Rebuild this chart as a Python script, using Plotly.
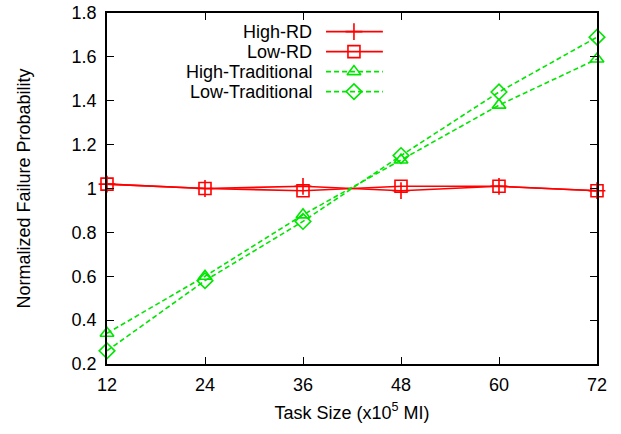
import plotly.graph_objects as go

task_size = [12, 24, 36, 48, 60, 72]
high_rd = [1.02, 1.00, 1.01, 0.99, 1.01, 0.99]
low_rd = [1.02, 1.00, 0.99, 1.01, 1.01, 0.99]
high_trad = [0.34, 0.60, 0.88, 1.13, 1.38, 1.59]
low_trad = [0.26, 0.58, 0.85, 1.15, 1.44, 1.69]

series_names = ["High-RD", "Low-RD", "High-Traditional", "Low-Traditional"]
y_tickvals = [0.2, 0.4, 0.6, 0.8, 1.0, 1.2, 1.4, 1.6, 1.8]
y_ticktext = ["0.2", "0.4", "0.6", "0.8", "1", "1.2", "1.4", "1.6", "1.8"]

RED = "#ff0000"
GREEN = "#00e600"
FONT = "Liberation Sans, Arial, sans-serif"
FS = 18

styles = [
    dict(color=RED, dash="solid", symbol="cross-thin-open"),
    dict(color=RED, dash="solid", symbol="square-open"),
    dict(color=GREEN, dash="5px,3px", symbol="triangle-up-open"),
    dict(color=GREEN, dash="5px,3px", symbol="diamond-open"),
]
values = [high_rd, low_rd, high_trad, low_trad]

fig = go.Figure()
for name, vals, st in zip(series_names, values, styles):
    fig.add_trace(go.Scatter(
        x=task_size, y=vals, name=name, mode="lines+markers",
        line=dict(color=st["color"], width=1.6, dash=st["dash"]),
        marker=dict(symbol=st["symbol"], size=12, color=st["color"],
                    line=dict(width=1.6, color=st["color"])),
        showlegend=False, cliponaxis=False,
    ))

# custom gnuplot-style legend (text right-aligned, sample to the right)
leg_y = [0.947, 0.890, 0.833, 0.776]
x_text, x_l0, x_l1, x_m = 0.422, 0.447, 0.563, 0.504
for name, st, yy in zip(series_names, styles, leg_y):
    fig.add_annotation(x=x_text, y=yy, xref="paper", yref="paper", text=name,
                       showarrow=False, xanchor="right", yanchor="middle",
                       font=dict(family=FONT, size=FS, color="#000"))
    fig.add_trace(go.Scatter(
        x=[x_l0, x_l1], y=[yy, yy], xaxis="x2", yaxis="y2", mode="lines",
        line=dict(color=st["color"], width=1.6, dash=st["dash"]),
        showlegend=False, hoverinfo="skip"))
    fig.add_trace(go.Scatter(
        x=[x_m], y=[yy], xaxis="x2", yaxis="y2", mode="markers",
        marker=dict(symbol=st["symbol"], size=12, color=st["color"],
                    line=dict(width=1.6, color=st["color"])),
        showlegend=False, hoverinfo="skip"))

axis_common = dict(showgrid=False, zeroline=False, showline=True, linecolor="#000",
                   linewidth=1.5, mirror="allticks", ticks="inside", ticklen=7,
                   tickcolor="#000", tickwidth=1, automargin=False,
                   tickfont=dict(family=FONT, size=FS, color="#000"))

fig.update_layout(
    width=621, height=434,
    margin=dict(l=107, r=24, t=13, b=70),
    paper_bgcolor="white", plot_bgcolor="white",
    xaxis=dict(range=[12, 72], tickvals=task_size, ticktext=[str(v) for v in task_size],
               ticklabelstandoff=4,
               title=dict(text="Task Size (x10<sup>5</sup> MI)", standoff=12,
                          font=dict(family=FONT, size=FS, color="#000")),
               **axis_common),
    yaxis=dict(range=[0.2, 1.8], tickvals=y_tickvals, ticktext=y_ticktext,
               ticklabelstandoff=5,
               title=dict(text="Normalized Failure Probability", standoff=36,
                          font=dict(family=FONT, size=FS, color="#000")),
               **axis_common),
    xaxis2=dict(overlaying="x", range=[0, 1], visible=False),
    yaxis2=dict(overlaying="y", range=[0, 1], visible=False),
)

fig.write_html("out.html", config={"displayModeBar": False},
               post_script="document.body.style.margin='0';")
